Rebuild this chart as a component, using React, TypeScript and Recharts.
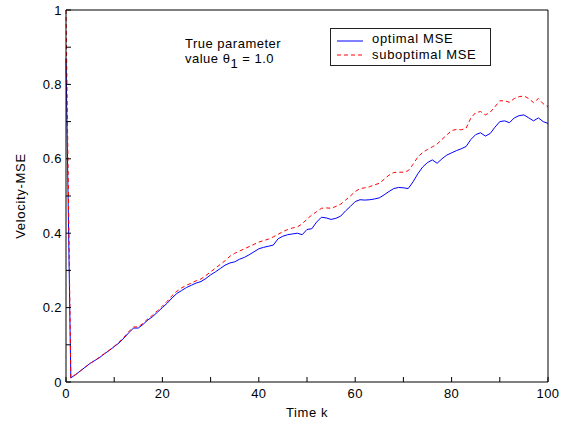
import React from 'react';
import { LineChart, Line, XAxis, YAxis, Legend } from 'recharts';

const steps = Array.from({ length: 101 }, (_, i) => i);

const optimalMse = [
  0.87, 0.011, 0.02, 0.03, 0.04, 0.05, 0.058, 0.066, 0.076, 0.085,
  0.095, 0.105, 0.118, 0.132, 0.145, 0.145, 0.155, 0.167, 0.176, 0.188,
  0.2, 0.212, 0.226, 0.238, 0.246, 0.254, 0.26, 0.266, 0.27, 0.278,
  0.288, 0.296, 0.305, 0.314, 0.32, 0.323, 0.33, 0.335, 0.342, 0.35,
  0.358, 0.362, 0.365, 0.368, 0.385, 0.392, 0.396, 0.398, 0.4, 0.396,
  0.41, 0.412, 0.43, 0.443, 0.441, 0.437, 0.44, 0.446, 0.46, 0.472,
  0.485, 0.49, 0.489, 0.49, 0.492, 0.495, 0.503, 0.512, 0.52, 0.523,
  0.522, 0.52, 0.538, 0.56, 0.578, 0.59, 0.597, 0.588, 0.6, 0.61,
  0.616, 0.622, 0.627, 0.633, 0.652, 0.665, 0.67, 0.661, 0.668, 0.685,
  0.7, 0.702, 0.697, 0.71, 0.716, 0.718, 0.71, 0.702, 0.71, 0.7,
  0.695,
];

const suboptimalMse = [
  1.0, 0.012, 0.02, 0.03, 0.04, 0.05, 0.058, 0.067, 0.077, 0.086,
  0.096, 0.107, 0.12, 0.135, 0.148, 0.148, 0.158, 0.17, 0.18, 0.192,
  0.204, 0.217, 0.232, 0.244, 0.253, 0.26, 0.266, 0.272, 0.277, 0.286,
  0.296, 0.306, 0.316, 0.326, 0.338, 0.346, 0.352, 0.358, 0.364, 0.37,
  0.376, 0.38, 0.384, 0.39, 0.397, 0.404, 0.41, 0.414, 0.417, 0.425,
  0.438, 0.449, 0.458, 0.467, 0.468, 0.467, 0.472, 0.478, 0.489, 0.5,
  0.512, 0.52, 0.522, 0.525, 0.53, 0.534, 0.545, 0.556, 0.563, 0.564,
  0.564, 0.568, 0.585, 0.605, 0.617, 0.625, 0.632, 0.64, 0.652, 0.664,
  0.676, 0.679, 0.678, 0.682, 0.71, 0.724, 0.727, 0.718, 0.725, 0.74,
  0.756, 0.756, 0.752, 0.762, 0.767, 0.769, 0.762, 0.751, 0.762, 0.748,
  0.74,
];

const xTicks = [0, 10, 20, 30, 40, 50, 60, 70, 80, 90, 100];
const yTicks = [0, 0.1, 0.2, 0.3, 0.4, 0.5, 0.6, 0.7, 0.8, 0.9, 1];

const data = steps.map((k, i) => ({
  k,
  optimal: optimalMse[i],
  suboptimal: suboptimalMse[i],
}));

const font = '"Liberation Sans", Arial, sans-serif';
const tickStyle = { fontSize: 13, fill: '#000', fontFamily: font, letterSpacing: 0.4 };

// only every second tick gets a label, like the matlab figure
const xLabel = (v: number) => (Math.round(v) % 20 === 0 ? String(v) : '');
const yLabel = (v: number) => (Math.round(v * 10) % 2 === 0 ? String(v) : '');

function LegendBox({ payload }: any) {
  const items = payload || [];
  return (
    <svg width={161} height={38} style={{ display: 'block' }}>
      <rect x={0.5} y={0.5} width={160} height={37} fill="#fff" stroke="#222" />
      {items.map((item: any, i: number) => (
        <g key={item.value}>
          <line
            x1={7}
            x2={33}
            y1={13 + i * 14}
            y2={13 + i * 14}
            stroke={item.color}
            strokeDasharray={item.payload?.strokeDasharray}
          />
          <text
            x={42}
            y={15 + i * 15.5}
            fontSize={13}
            fontFamily={font}
            letterSpacing={0.7}
            fill="#000"
          >
            {item.value}
          </text>
        </g>
      ))}
    </svg>
  );
}

export default function App() {
  return (
    <div style={{ position: 'absolute', left: 0, top: 0, width: 574, height: 426, background: '#fff' }}>
      <LineChart
        width={574}
        height={426}
        data={data}
        margin={{ top: 9, right: 25, bottom: 14, left: 10 }}
      >
        <XAxis
          dataKey="k"
          type="number"
          domain={[0, 100]}
          ticks={xTicks}
          tickFormatter={xLabel}
          tick={tickStyle}
          tickSize={-5}
          tickMargin={12}
          height={30}
          stroke="#000"
          interval={0}
          label={{
            content: ({ viewBox }: any) => (
              <text
                x={viewBox.x + viewBox.width / 2}
                y={viewBox.y + 35}
                textAnchor="middle"
                fontSize={13}
                fontFamily={font}
                letterSpacing={0.6}
                fill="#000"
              >
                Time k
              </text>
            ),
          }}
        />
        <XAxis
          xAxisId="top"
          orientation="top"
          dataKey="k"
          type="number"
          domain={[0, 100]}
          ticks={xTicks}
          tick={false}
          tickSize={-5}
          height={1}
          stroke="#000"
          interval={0}
        />
        <YAxis
          type="number"
          domain={[0, 1]}
          ticks={yTicks}
          tickFormatter={yLabel}
          tick={tickStyle}
          tickSize={-5}
          tickMargin={9}
          width={56}
          stroke="#000"
          interval={0}
          label={{
            content: ({ viewBox }: any) => {
              const cx = viewBox.x + 15;
              const cy = viewBox.y + viewBox.height / 2;
              return (
                <text
                  x={cx}
                  y={cy}
                  transform={`rotate(-90 ${cx} ${cy})`}
                  textAnchor="middle"
                  fontSize={13}
                  fontFamily={font}
                  letterSpacing={0.7}
                  fill="#000"
                >
                  Velocity-MSE
                </text>
              );
            },
          }}
        />
        <YAxis
          yAxisId="right"
          orientation="right"
          type="number"
          domain={[0, 1]}
          ticks={yTicks}
          tick={false}
          tickSize={-5}
          width={1}
          stroke="#000"
          interval={0}
        />
        <Legend
          layout="vertical"
          align="center"
          verticalAlign="middle"
          content={<LegendBox />}
          wrapperStyle={{ left: 330, top: 28, width: 161, height: 38 }}
        />
        <Line
          type="linear"
          dataKey="optimal"
          name="optimal MSE"
          stroke="#0000ff"
          strokeWidth={1}
          dot={false}
          isAnimationActive={false}
        />
        <Line
          type="linear"
          dataKey="suboptimal"
          name="suboptimal MSE"
          xAxisId="top"
          yAxisId="right"
          stroke="#ff0000"
          strokeWidth={1}
          strokeDasharray="4 3"
          dot={false}
          isAnimationActive={false}
        />
      </LineChart>
      <svg
        width={574}
        height={426}
        style={{ position: 'absolute', left: 0, top: 0, pointerEvents: 'none' }}
      >
        <text x={185} y={48} fontSize={13} fontFamily={font} letterSpacing={0.5} fill="#000">
          True parameter
        </text>
        <text x={185} y={63} fontSize={13} fontFamily={font} letterSpacing={0.5} fill="#000">
          value θ<tspan dy={5}>1</tspan>
          <tspan dy={-5}> = 1.0</tspan>
        </text>
      </svg>
    </div>
  );
}
